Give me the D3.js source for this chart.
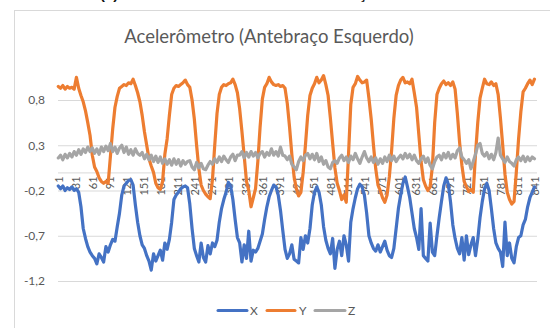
<!DOCTYPE html>
<html>
<head>
<meta charset="utf-8">
<script src="https://cdn.jsdelivr.net/npm/d3@7"></script>
<style>
  html, body { margin: 0; padding: 0; background: #fff; overflow: hidden; }
  svg { display: block; }
</style>
</head>
<body>
<svg id="chart" width="550" height="328"></svg>
<script>
// ---- data ----
const captionText = "(a) Sinais do Acelerômetro – Antebraço";
const chartTitle = "Acelerômetro (Antebraço Esquerdo)";
const seriesNames = ["X", "Y", "Z"];
const seriesColors = ["#4472C4", "#ED7D31", "#A5A5A5"];
const yTicks = [-1.2, -0.7, -0.2, 0.3, 0.8];
const xTickLabels = [1, 31, 61, 91, 121, 151, 181, 211, 241, 271, 301, 331, 361, 391, 421,
  451, 481, 511, 541, 571, 601, 631, 661, 691, 721, 751, 781, 811, 841];
const categoryCount = 845;   // samples on the category axis
const sampleStep = 4;        // readings below are taken at samples 1, 5, 9, ...

const valuesX = [
  -0.15,-0.18,-0.15,-0.20,-0.17,-0.19,-0.16,-0.20,-0.18,-0.22,
  -0.38,-0.62,-0.73,-0.82,-0.88,-0.92,-0.95,-1.01,-0.90,-0.94,
  -0.99,-0.82,-0.88,-0.80,-0.74,-0.76,-0.60,-0.45,-0.25,-0.15,
  -0.12,-0.09,-0.08,-0.14,-0.36,-0.55,-0.70,-0.80,-0.84,-0.92,
  -0.98,-1.08,-0.90,-0.98,-0.92,-0.86,-0.97,-0.78,-0.85,-0.74,
  -0.55,-0.30,-0.25,-0.22,-0.18,-0.16,-0.15,-0.17,-0.35,-0.62,
  -0.84,-0.92,-0.99,-0.78,-0.94,-0.99,-0.81,-0.90,-0.78,-0.82,
  -0.75,-0.55,-0.40,-0.30,-0.22,-0.11,-0.15,-0.30,-0.52,-0.72,
  -0.78,-0.99,-0.80,-0.95,-0.65,-0.98,-0.86,-0.88,-0.84,-0.76,
  -0.68,-0.52,-0.38,-0.27,-0.20,-0.14,-0.16,-0.25,-0.42,-0.64,
  -0.85,-0.95,-0.90,-0.80,-0.96,-0.98,-1.00,-0.72,-0.85,-0.70,
  -0.78,-0.62,-0.36,-0.22,-0.16,-0.22,-0.36,-0.60,-0.75,-0.84,
  -0.90,-0.73,-1.06,-0.85,-0.76,-0.92,-0.70,-0.80,-0.98,-0.55,
  -0.40,-0.28,-0.18,-0.13,-0.16,-0.25,-0.45,-0.70,-0.78,-0.84,
  -0.87,-0.80,-0.88,-0.82,-0.76,-0.86,-0.92,-0.94,-0.84,-0.62,
  -0.40,-0.25,-0.12,-0.05,-0.16,-0.28,-0.45,-0.62,-0.72,-0.85,
  -0.40,-0.92,-0.95,-0.98,-0.56,-0.88,-0.92,-0.70,-0.50,-0.32,
  -0.15,-0.06,-0.13,-0.33,-0.58,-0.73,-0.84,-0.90,-0.72,-0.97,
  -0.70,-0.91,-0.80,-0.72,-0.92,-0.74,-0.50,-0.32,-0.18,-0.12,
  -0.20,-0.40,-0.62,-0.78,-0.84,-0.88,-1.04,-0.55,-0.92,-0.78,
  -0.95,-1.00,-0.82,-0.72,-0.70,-0.58,-0.52,-0.38,-0.28,-0.22,
  -0.16
];

const valuesY = [
  0.95,0.93,0.96,0.92,0.95,0.93,0.94,0.92,1.05,0.93,
  0.85,0.78,0.68,0.55,0.41,0.19,0.06,0.01,-0.06,-0.10,
  -0.12,-0.10,-0.12,0.18,0.48,0.72,0.84,0.93,0.95,0.97,
  0.96,0.99,0.98,1.03,0.96,0.88,0.78,0.63,0.45,0.30,
  0.15,0.07,0.00,-0.12,-0.17,-0.19,-0.10,0.20,0.37,0.63,
  0.86,0.93,0.96,0.95,0.97,0.99,1.02,0.97,0.94,0.80,
  0.59,0.30,0.04,-0.14,-0.20,-0.24,-0.27,-0.29,-0.08,0.30,
  0.65,0.86,0.94,0.97,0.96,0.98,0.99,1.03,0.97,0.88,
  0.70,0.45,0.18,-0.10,-0.20,-0.38,-0.28,-0.18,0.12,0.50,
  0.81,0.94,0.98,1.05,1.00,0.97,0.96,0.97,0.95,0.96,
  0.93,0.76,0.50,0.20,-0.05,-0.18,-0.26,-0.22,0.00,0.30,
  0.63,0.85,0.93,0.98,1.05,0.99,1.02,1.07,0.97,0.85,
  0.60,0.32,0.05,-0.12,-0.20,-0.30,-0.25,-0.33,0.20,0.75,
  0.94,0.98,1.06,1.02,0.99,1.00,1.02,0.82,0.59,0.30,
  0.04,-0.14,-0.20,-0.28,-0.33,-0.25,-0.05,0.24,0.60,0.85,
  0.96,1.02,1.05,0.99,1.00,0.98,1.03,0.88,0.72,0.42,
  0.12,-0.08,-0.15,-0.20,-0.16,0.07,0.55,0.86,0.93,0.98,
  1.01,0.97,0.99,0.96,1.00,0.92,0.65,0.33,0.08,-0.10,
  -0.16,-0.21,-0.19,-0.22,0.20,0.55,0.82,0.93,1.03,0.98,
  0.97,1.00,0.96,0.98,0.86,0.60,0.30,-0.02,-0.22,-0.30,
  -0.35,-0.32,0.00,0.37,0.67,0.89,0.93,0.98,1.02,0.97,
  1.03
];

const valuesZ = [
  0.16,0.19,0.14,0.20,0.16,0.21,0.17,0.23,0.19,0.25,
  0.20,0.26,0.22,0.28,0.23,0.27,0.21,0.26,0.20,0.28,
  0.23,0.29,0.24,0.32,0.23,0.28,0.21,0.27,0.30,0.22,
  0.28,0.20,0.25,0.19,0.26,0.21,0.19,0.22,0.15,0.20,
  0.14,0.19,0.12,0.18,0.11,0.17,0.10,0.15,0.09,0.14,
  0.08,0.15,0.09,0.14,0.07,0.13,0.09,0.12,0.13,0.06,
  0.03,0.11,0.05,0.10,0.04,0.03,0.08,0.12,0.09,0.15,
  0.11,0.17,0.12,0.18,0.14,0.11,0.17,0.20,0.13,0.19,
  0.19,0.23,0.16,0.22,0.17,0.23,0.18,0.22,0.16,0.21,
  0.23,0.17,0.22,0.19,0.26,0.19,0.23,0.18,0.28,0.19,
  0.18,0.14,0.18,0.09,0.06,0.03,0.12,0.17,0.13,0.19,
  0.21,0.15,0.20,0.14,0.21,0.12,0.17,0.09,0.13,0.06,
  0.04,0.11,0.13,0.10,0.16,0.19,0.13,0.17,0.11,0.18,
  0.14,0.21,0.15,0.10,0.17,0.23,0.16,0.12,0.17,0.11,
  0.16,0.09,0.15,0.10,0.17,0.12,0.19,0.13,0.18,0.12,
  0.16,0.19,0.15,0.21,0.16,0.20,0.14,0.19,0.13,0.10,
  0.15,0.18,0.11,0.16,0.08,0.04,0.12,0.17,0.19,0.14,
  0.21,0.16,0.22,0.15,0.20,0.16,0.24,0.27,0.17,0.14,
  0.10,0.14,0.04,0.12,0.20,0.30,0.32,0.21,0.18,0.22,
  0.15,0.20,0.14,0.22,0.38,0.19,0.15,0.11,0.17,0.12,
  0.10,0.07,0.14,0.17,0.13,0.18,0.12,0.17,0.13,0.17,
  0.15
];

const seriesValues = [valuesX, valuesY, valuesZ];

// ---- layout ----
const svg = d3.select("#chart");
const plot = { left: 58, right: 537, top: 63.8, bottom: 281 };
const textColor = "#595959";
const gridColor = "#D9D9D9";
const uiFont = "Lato, 'Open Sans', sans-serif";

const x = d3.scaleLinear()
  .domain([0.5, categoryCount + 0.5])
  .range([plot.left, plot.right]);
const y = d3.scaleLinear()
  .domain([-1.2, 1.2])
  .range([plot.bottom, plot.top]);

const fmt = v => d3.format(".1f")(v).replace(".", ",").replace("−", "-");

// figure caption above the chart frame (only its lowest strokes fall in view)
svg.append("text")
  .attr("x", 100).attr("y", -0.6)
  .attr("font-family", "'Liberation Sans', Arial, sans-serif")
  .attr("font-weight", "bold")
  .attr("font-size", 14.8)
  .attr("fill", "#111")
  .text(captionText);

// chart frame
svg.append("rect")
  .attr("x", 14.5).attr("y", 10.5)
  .attr("width", 560).attr("height", 340)
  .attr("fill", "#fff")
  .attr("stroke", gridColor).attr("stroke-width", 1);

// title
svg.append("text")
  .attr("x", 269).attr("y", 43)
  .attr("text-anchor", "middle")
  .attr("font-family", uiFont)
  .attr("font-size", 18.5)
  .attr("fill", textColor)
  .text(chartTitle);

// horizontal gridlines + value axis labels
const yAxis = d3.axisLeft(y)
  .tickValues(yTicks)
  .tickSize(-(plot.right - plot.left))
  .tickPadding(13)
  .tickFormat(fmt);
const yg = svg.append("g")
  .attr("transform", `translate(${plot.left},0)`)
  .call(yAxis);
yg.select(".domain").remove();
yg.selectAll(".tick line").attr("stroke", gridColor).attr("stroke-width", 1);
yg.selectAll(".tick text")
  .attr("font-family", uiFont).attr("font-size", 12)
  .attr("fill", textColor);

// category axis at zero
const xAxis = d3.axisBottom(x)
  .tickValues(xTickLabels)
  .tickSize(0)
  .tickPadding(0)
  .tickFormat(d => String(d));
const xg = svg.append("g")
  .attr("transform", `translate(0,${y(0)})`)
  .call(xAxis);
xg.select(".domain")
  .attr("d", `M${plot.left},0.5H${plot.right}`)
  .attr("stroke", gridColor).attr("stroke-width", 1);
xg.selectAll(".tick text")
  .attr("font-family", uiFont).attr("font-size", 11)
  .attr("fill", textColor)
  .attr("text-anchor", "end")
  .attr("transform", "translate(0,4) rotate(-90)")
  .attr("x", 0).attr("y", 0).attr("dy", "0.35em");

// series lines
const line = d3.line()
  .x((d, i) => x(1 + i * sampleStep))
  .y(d => y(d));
svg.append("g").selectAll("path")
  .data(seriesValues)
  .join("path")
  .attr("d", line)
  .attr("fill", "none")
  .attr("stroke", (d, i) => seriesColors[i])
  .attr("stroke-width", 3.2)
  .attr("stroke-linejoin", "round")
  .attr("stroke-linecap", "round");

// legend
const legendItems = [
  { x0: 218, x1: 247, tx: 250 },
  { x0: 267, x1: 295, tx: 299 },
  { x0: 315, x1: 345, tx: 348 }
];
const lg = svg.append("g");
legendItems.forEach((it, i) => {
  lg.append("line")
    .attr("x1", it.x0).attr("x2", it.x1)
    .attr("y1", 310.5).attr("y2", 310.5)
    .attr("stroke", seriesColors[i]).attr("stroke-width", 3)
    .attr("stroke-linecap", "round");
  lg.append("text")
    .attr("x", it.tx).attr("y", 310.5).attr("dy", "0.35em")
    .attr("font-family", uiFont).attr("font-size", 12)
    .attr("fill", textColor)
    .text(seriesNames[i]);
});
</script>
</body>
</html>
